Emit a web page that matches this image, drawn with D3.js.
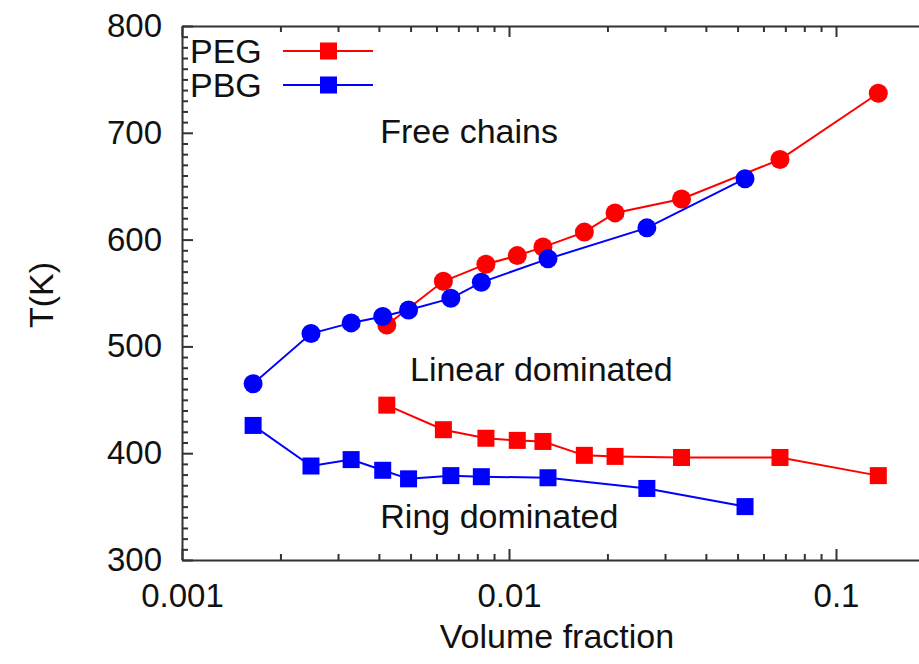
<!DOCTYPE html>
<html>
<head>
<meta charset="utf-8">
<script src="https://cdn.jsdelivr.net/npm/d3@7"></script>
<style>
  body { margin: 0; background: #fff; }
  svg { display: block; font-family: "Liberation Sans", Arial, sans-serif; }
  .axis path, .axis line { stroke: #333; stroke-width: 2; }
  .axis text { font-size: 33px; fill: #111; font-family: "Liberation Sans", Arial, sans-serif; }
</style>
</head>
<body>
<div id="chart"></div>
<script>
// Volume fraction values, one list per polymer
const pegX = [0.00423, 0.0063, 0.0085, 0.0106, 0.0127, 0.0170, 0.0211, 0.0337, 0.0674, 0.1347];
const pbgX = [0.00165, 0.00248, 0.00329, 0.00411, 0.00493, 0.00664, 0.00823, 0.01316, 0.0264, 0.0527];

// Upper boundary (circles) and lower boundary (squares), in K
const pegUpper = [520, 561, 577, 585, 593, 607, 625, 638, 675, 737];
const pegLower = [445, 422, 414, 412, 411, 398, 397, 396, 396, 379];
const pbgUpper = [465, 512, 522, 528, 534, 545, 560, 582, 611, 657];
const pbgLower = [426, 388, 394, 384, 376, 379, 378, 377, 367, 350];

const xTicks = [0.001, 0.01, 0.1];
const yTicks = [300, 400, 500, 600, 700, 800];

const series = [
    { name: "PEG", color: "#ff0000", x: pegX, upper: pegUpper, lower: pegLower },
    { name: "PBG", color: "#0000ff", x: pbgX, upper: pbgUpper, lower: pbgLower }
];

const regions = [
    { text: "Free chains", x: 0.00404, y: 690 },
    { text: "Linear dominated", x: 0.00498, y: 468 },
    { text: "Ring dominated", x: 0.00404, y: 330 }
];

const width = 919, height = 664;
const margin = { left: 182, top: 26, bottom: 560 };
const fontSize = "34px";

const svg = d3.select("#chart").append("svg")
    .attr("width", width)
    .attr("height", height);

// One decade is about 327 px, the right end runs past the picture
const x = d3.scaleLog().domain([0.001, 0.3]).range([margin.left, margin.left + 327 * Math.log10(300)]);
const y = d3.scaleLinear().domain([300, 800]).range([margin.bottom, margin.top]);

// Minor ticks 2..9 for each decade
const xMinor = [];
[0.001, 0.01, 0.1].forEach(d => {
    for (let k = 2; k <= 9; k++) xMinor.push(d * k);
});
const yMinor = d3.range(300, 801, 10).filter(v => v % 100 !== 0);

// Bottom axis
svg.append("g").attr("class", "axis")
    .attr("transform", `translate(0,${margin.bottom})`)
    .call(d3.axisBottom(x).tickValues(xTicks).tickFormat(d3.format("~g"))
        .tickSizeInner(-11).tickSizeOuter(0).tickPadding(23))
    .call(g => g.selectAll("text").attr("dy", "0.72em"));
svg.append("g").attr("class", "axis")
    .attr("transform", `translate(0,${margin.bottom})`)
    .call(d3.axisBottom(x).tickValues(xMinor).tickFormat("").tickSizeInner(-6).tickSizeOuter(0))
    .call(g => g.select(".domain").remove());

// Top axis, ticks only
svg.append("g").attr("class", "axis")
    .attr("transform", `translate(0,${margin.top})`)
    .call(d3.axisTop(x).tickValues(xTicks).tickFormat("").tickSizeInner(-11).tickSizeOuter(0));
svg.append("g").attr("class", "axis")
    .attr("transform", `translate(0,${margin.top})`)
    .call(d3.axisTop(x).tickValues(xMinor).tickFormat("").tickSizeInner(-6).tickSizeOuter(0))
    .call(g => g.select(".domain").remove());

// Left axis
svg.append("g").attr("class", "axis")
    .attr("transform", `translate(${margin.left},0)`)
    .call(d3.axisLeft(y).tickValues(yTicks).tickSizeInner(-11).tickSizeOuter(0).tickPadding(20));
svg.append("g").attr("class", "axis")
    .attr("transform", `translate(${margin.left},0)`)
    .call(d3.axisLeft(y).tickValues(yMinor).tickFormat("").tickSizeInner(-6).tickSizeOuter(0))
    .call(g => g.select(".domain").remove());

// Axis titles
svg.append("text")
    .attr("x", 557).attr("y", 648)
    .attr("text-anchor", "middle")
    .style("font-size", fontSize).attr("fill", "#111")
    .text("Volume fraction");
svg.append("text")
    .attr("transform", "translate(53,295) rotate(-90)")
    .attr("text-anchor", "middle")
    .style("font-size", fontSize).attr("fill", "#111")
    .text("T(K)");

// Region labels
svg.selectAll(".region")
    .data(regions)
    .enter()
    .append("text")
    .attr("class", "region")
    .attr("x", d => x(d.x))
    .attr("y", d => y(d.y))
    .style("font-size", fontSize).attr("fill", "#111")
    .text(d => d.text);

const line = d3.line().x(d => x(d[0])).y(d => y(d[1]));

// PEG first so the PBG markers sit on top
series.forEach(s => {
    const up = s.x.map((v, i) => [v, s.upper[i]]);
    const lo = s.x.map((v, i) => [v, s.lower[i]]);
    const g = svg.append("g");

    g.append("path").datum(up)
        .attr("d", line).attr("fill", "none")
        .attr("stroke", s.color).attr("stroke-width", 2);
    g.append("path").datum(lo)
        .attr("d", line).attr("fill", "none")
        .attr("stroke", s.color).attr("stroke-width", 2);

    g.selectAll(".dot")
        .data(up)
        .enter()
        .append("circle")
        .attr("cx", d => x(d[0]))
        .attr("cy", d => y(d[1]))
        .attr("r", 9.5)
        .attr("fill", s.color);

    g.selectAll(".sq")
        .data(lo)
        .enter()
        .append("rect")
        .attr("x", d => x(d[0]) - 8.5)
        .attr("y", d => y(d[1]) - 8.5)
        .attr("width", 17).attr("height", 17)
        .attr("fill", s.color);
});

// Legend
const legend = svg.append("g");
series.forEach((s, i) => {
    const ly = 51 + i * 34;
    legend.append("text")
        .attr("x", 190).attr("y", ly + 12)
        .style("font-size", fontSize).attr("fill", "#111")
        .text(s.name);
    legend.append("line")
        .attr("x1", 283).attr("x2", 373)
        .attr("y1", ly).attr("y2", ly)
        .attr("stroke", s.color).attr("stroke-width", 2);
    legend.append("rect")
        .attr("x", 320).attr("y", ly - 8.5)
        .attr("width", 17).attr("height", 17)
        .attr("fill", s.color);
});
</script>
</body>
</html>
